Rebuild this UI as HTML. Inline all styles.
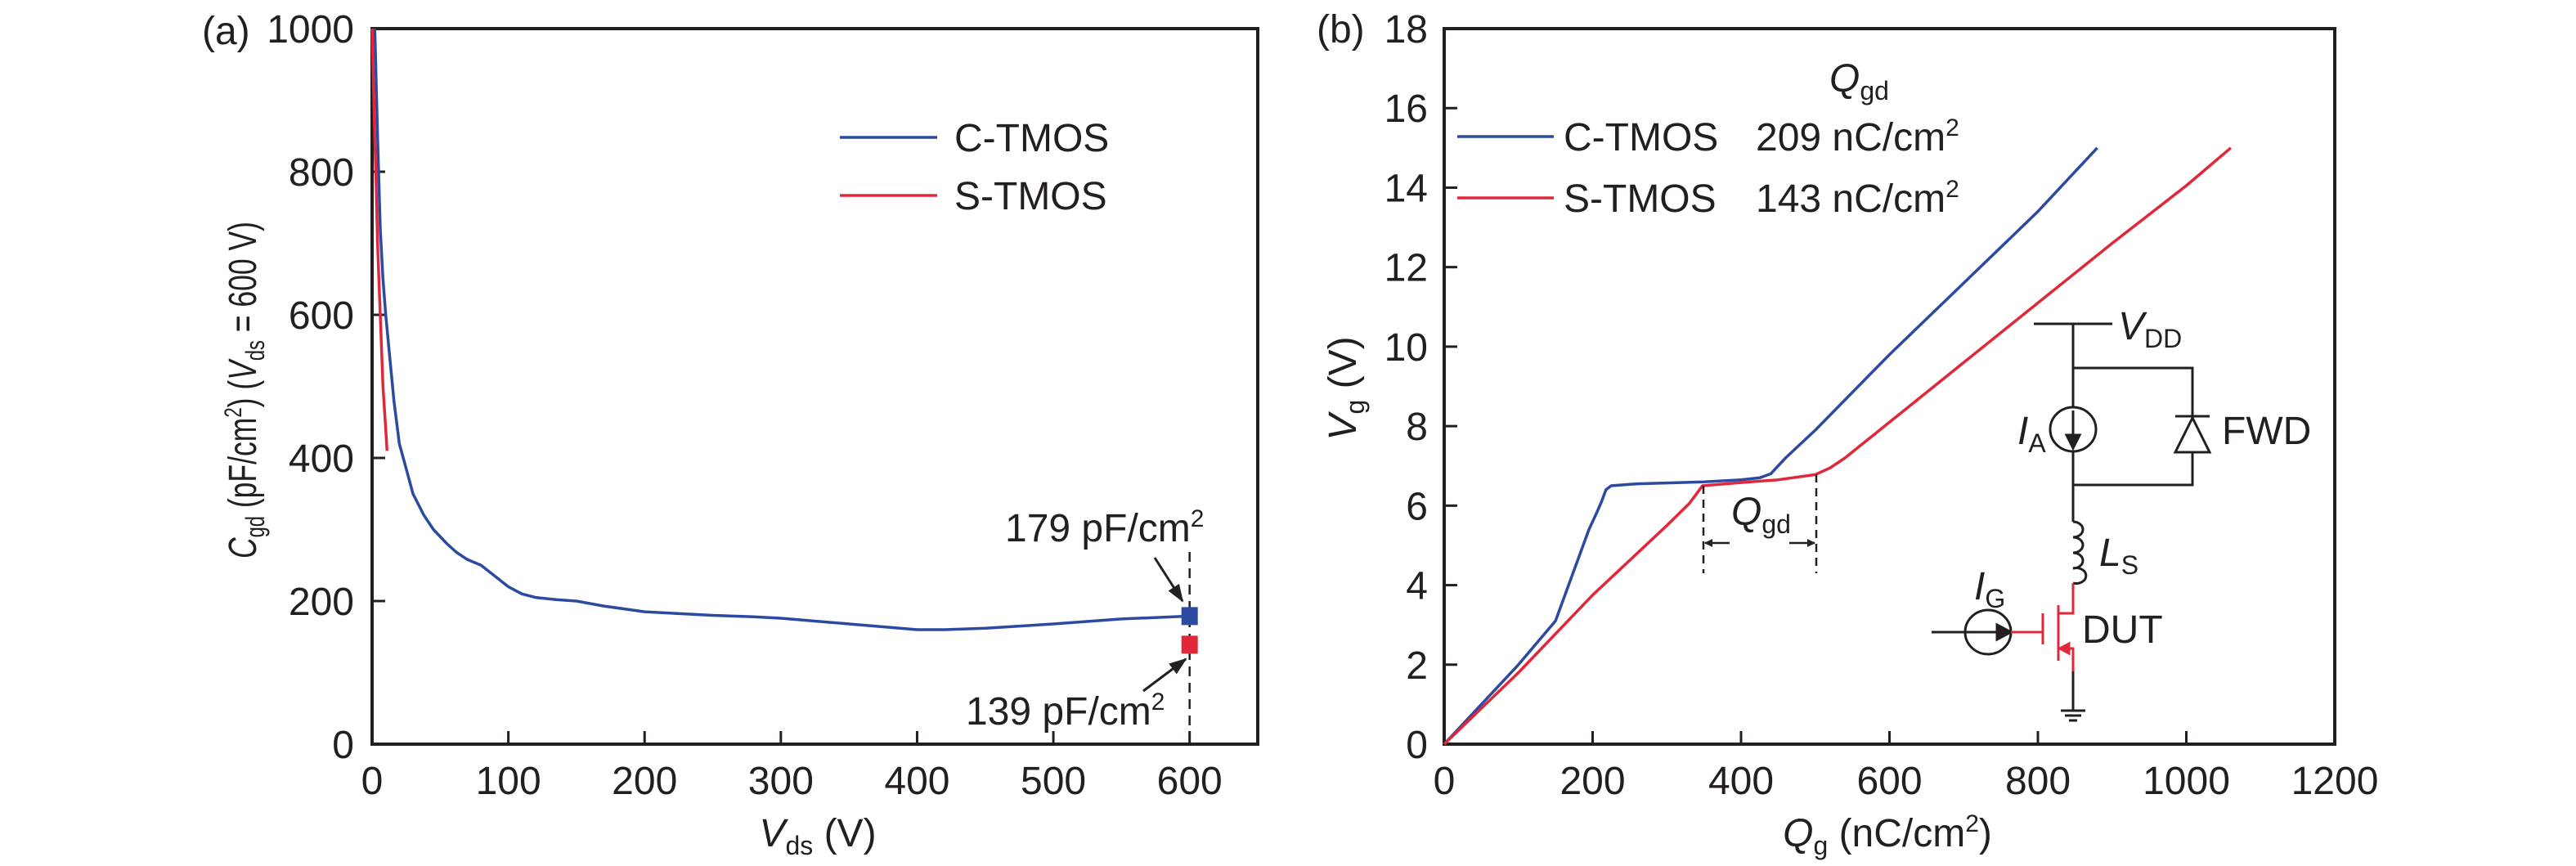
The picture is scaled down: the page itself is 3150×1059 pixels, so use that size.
<!DOCTYPE html>
<html><head><meta charset="utf-8"><style>
html,body{margin:0;padding:0;background:#fff;}
svg{display:block;font-family:"Liberation Sans Narrow","Liberation Sans",sans-serif;}
</style></head><body>
<svg id="fig" width="3150" height="1059" viewBox="0 0 3150 1059" xmlns="http://www.w3.org/2000/svg">
<defs>
<marker id="ah" markerWidth="10" markerHeight="10" refX="9" refY="5" orient="auto" markerUnits="userSpaceOnUse"><path d="M0,0 L10,5 L0,10 z" fill="#222"/></marker>
<marker id="ahb" markerWidth="22" markerHeight="16" refX="20" refY="8" orient="auto" markerUnits="userSpaceOnUse"><path d="M0,0 L22,8 L0,16 z" fill="#222"/></marker>
</defs>
<g id="pa"></g>
<g id="pb"></g>
</svg>
<script>
// Panel (a) data
const aXTicks = [0,100,200,300,400,500,600];
const aYTicks = [0,200,400,600,800,1000];
const aBlueX = [2,4,6,8,10,12,16,20,25,30,38,45,55,62,70,80,90,100,110,120,135,150,170,200,250,280,300,350,400,420,450,500,550,600];
const aBlueY = [1000,850,720,650,600,560,480,420,385,350,320,300,280,268,258,250,235,220,210,205,202,200,193,185,180,178,176,168,160,160,162,168,175,179];
const aRedX = [0,2,3,4,5,6,8,10,11];
const aRedY = [1000,850,780,700,650,600,500,440,410];
const aMarkX = [600,600];
const aMarkY = [179,139];
// Panel (b) data
const bXTicks = [0,200,400,600,800,1000,1200];
const bYTicks = [0,2,4,6,8,10,12,14,16,18];
const bBlueX = [0,50,100,150,195,205,212,218,225,260,300,350,400,425,440,460,500,600,700,800,880];
const bBlueY = [0,1.0,2.0,3.1,5.4,5.8,6.1,6.4,6.5,6.55,6.57,6.6,6.65,6.7,6.8,7.2,7.9,9.8,11.6,13.4,15];
const bRedX = [0,100,200,300,330,340,348,400,450,500,520,540,600,700,800,900,1000,1060];
const bRedY = [0,1.8,3.75,5.5,6.05,6.3,6.5,6.58,6.65,6.78,6.95,7.2,8.1,9.6,11.1,12.6,14.05,15];

const NS="http://www.w3.org/2000/svg";
function mk(parent,tag,attrs,text){const e=document.createElementNS(NS,tag);for(const k in attrs)e.setAttribute(k,attrs[k]);if(text!==undefined)e.textContent=text;parent.appendChild(e);return e;}
const BLUE="#2c4aa0", RED="#e0283a", K="#231f20";

// ---------- Panel a ----------
const pa=document.getElementById('pa');
const aL=455,aR=1538,aT=35,aB=910;
const ax=v=>aL+(v/650)*(aR-aL);
const ay=v=>aB-(v/1000)*(aB-aT);
let e;
e=mk(pa,'rect',{x:aL,y:aT,width:aR-aL,height:aB-aT,fill:'none',stroke:K,'stroke-width':4});


aXTicks.forEach(t=>{
  e=mk(pa,'line',{x1:ax(t),x2:ax(t),y1:aB,y2:aB-16,stroke:K,'stroke-width':3});
  
  
  e=mk(pa,'text',{x:ax(t),y:971,'font-size':48,'text-anchor':'middle',fill:K},String(t));
  
  
});
aYTicks.forEach(t=>{
  e=mk(pa,'line',{x1:aL,x2:aL+16,y1:ay(t),y2:ay(t),stroke:K,'stroke-width':3});
  
  
  e=mk(pa,'text',{x:433,y:ay(t)+17,'font-size':48,'text-anchor':'end',fill:K},String(t));
  
  
});
function poly(parent,xs,ys,fx,fy,col,name){
  const pts=xs.map((x,i)=>fx(x).toFixed(1)+','+fy(ys[i]).toFixed(1)).join(' ');
  const p=mk(parent,'polyline',{points:pts,fill:'none',stroke:col,'stroke-width':3.5,'stroke-linejoin':'round'});
  
  
}
poly(pa,aBlueX,aBlueY,ax,ay,BLUE,'c-tmos-cgd-curve');
poly(pa,aRedX,aRedY,ax,ay,RED,'s-tmos-cgd-curve');
e=mk(pa,'line',{x1:ax(600),x2:ax(600),y1:675,y2:aB,stroke:K,'stroke-width':2.5,'stroke-dasharray':'12,8'});


aMarkX.forEach((x,i)=>{
  e=mk(pa,'rect',{x:ax(x)-10,y:ay(aMarkY[i])-11,width:20,height:22,fill:i===0?BLUE:RED});
  
  
});
e=mk(pa,'line',{x1:1412,y1:682,x2:1446,y2:735,stroke:K,'stroke-width':3,'marker-end':'url(#ahb)'});


e=mk(pa,'line',{x1:1398,y1:845,x2:1450,y2:806,stroke:K,'stroke-width':3,'marker-end':'url(#ahb)'});


e=mk(pa,'text',{x:1229,y:662,'font-size':48,fill:K});
e.innerHTML='179 pF/cm<tspan dy="-18" font-size="30">2</tspan>';


e=mk(pa,'text',{x:1181,y:886,'font-size':48,fill:K});
e.innerHTML='139 pF/cm<tspan dy="-18" font-size="30">2</tspan>';


// legend a
[['C-TMOS',BLUE,168],['S-TMOS',RED,239]].forEach(([n,c,y])=>{
  e=mk(pa,'line',{x1:1027,x2:1146,y1:y,y2:y,stroke:c,'stroke-width':3.5});
  
  
  e=mk(pa,'text',{x:1167,y:y+17,'font-size':48,fill:K},n);
  
  
});
e=mk(pa,'text',{x:247,y:54,'font-size':48,fill:K},'(a)');


e=mk(pa,'text',{x:1000,y:1035,'font-size':48,'text-anchor':'middle',fill:K});
e.innerHTML='<tspan font-style="italic">V</tspan><tspan font-size="32" dy="10">ds</tspan><tspan dy="-10"> (V)</tspan>';


e=mk(pa,'text',{x:0,y:0,'font-size':48,'text-anchor':'middle',fill:K,transform:'translate(313,477) rotate(-90) scale(0.74,1)'});
e.innerHTML='<tspan font-style="italic">C</tspan><tspan font-size="32" dy="10">gd</tspan><tspan dy="-10"> (pF/cm</tspan><tspan font-size="30" dy="-18">2</tspan><tspan dy="18">) (</tspan><tspan font-style="italic">V</tspan><tspan font-size="32" dy="10">ds</tspan><tspan dy="-10"> = 600 V)</tspan>';



// ---------- Panel b ----------
const pb=document.getElementById('pb');
const bL=1766,bR=2855,bT=35,bB=910;
const bx=v=>bL+(v/1200)*(bR-bL);
const by=v=>bB-(v/18)*(bB-bT);
e=mk(pb,'rect',{x:bL,y:bT,width:bR-bL,height:bB-bT,fill:'none',stroke:K,'stroke-width':4});


bXTicks.forEach(t=>{
  e=mk(pb,'line',{x1:bx(t),x2:bx(t),y1:bB,y2:bB-16,stroke:K,'stroke-width':3});
  
  
  e=mk(pb,'text',{x:bx(t),y:971,'font-size':48,'text-anchor':'middle',fill:K},String(t));
  
  
});
bYTicks.forEach(t=>{
  e=mk(pb,'line',{x1:bL,x2:bL+16,y1:by(t),y2:by(t),stroke:K,'stroke-width':3});
  
  
  e=mk(pb,'text',{x:1746,y:by(t)+17,'font-size':48,'text-anchor':'end',fill:K},String(t));
  
  
});
poly(pb,bBlueX,bBlueY,bx,by,BLUE,'c-tmos-vg-curve');
poly(pb,bRedX,bRedY,bx,by,RED,'s-tmos-vg-curve');
// Qgd annotation
e=mk(pb,'line',{x1:2083,x2:2083,y1:594,y2:701,stroke:K,'stroke-width':2.5,'stroke-dasharray':'10,7'});


e=mk(pb,'line',{x1:2221,x2:2221,y1:580,y2:701,stroke:K,'stroke-width':2.5,'stroke-dasharray':'10,7'});


e=mk(pb,'line',{x1:2115,x2:2085,y1:664,y2:664,stroke:K,'stroke-width':2.5,'marker-end':'url(#ah)'});


e=mk(pb,'line',{x1:2188,x2:2219,y1:664,y2:664,stroke:K,'stroke-width':2.5,'marker-end':'url(#ah)'});


e=mk(pb,'text',{x:2117,y:642,'font-size':48,fill:K});
e.innerHTML='<tspan font-style="italic">Q</tspan><tspan font-size="32" dy="10">gd</tspan>';


// legend b
e=mk(pb,'text',{x:2237,y:112,'font-size':48,fill:K});
e.innerHTML='<tspan font-style="italic">Q</tspan><tspan font-size="32" dy="10">gd</tspan>';


[['C-TMOS','209',BLUE,167],['S-TMOS','143',RED,242]].forEach(([n,v,c,y])=>{
  e=mk(pb,'line',{x1:1782,x2:1900,y1:y,y2:y,stroke:c,'stroke-width':3.5});
  
  
  e=mk(pb,'text',{x:1912,y:y+17,'font-size':48,fill:K},n);
  
  
  e=mk(pb,'text',{x:2147,y:y+17,'font-size':48,fill:K});
  e.innerHTML=v+' nC/cm<tspan dy="-18" font-size="30">2</tspan>';
  
  
});
e=mk(pb,'text',{x:1610,y:52,'font-size':48,fill:K},'(b)');


e=mk(pb,'text',{x:2308,y:1035,'font-size':48,'text-anchor':'middle',fill:K});
e.innerHTML='<tspan font-style="italic">Q</tspan><tspan font-size="32" dy="10">g</tspan><tspan dy="-10"> (nC/cm</tspan><tspan font-size="30" dy="-18">2</tspan><tspan dy="18">)</tspan>';


e=mk(pb,'text',{x:0,y:0,'font-size':48,'text-anchor':'middle',fill:K,transform:'translate(1658,475) rotate(-90)'});
e.innerHTML='<tspan font-style="italic">V</tspan><tspan font-size="32" dy="10">g</tspan><tspan dy="-10"> (V)</tspan>';



// circuit
const c=mk(pb,'g',{stroke:K,'stroke-width':3,fill:'none'});


c.innerHTML=`
<line x1="2487" y1="396" x2="2583" y2="396"/>
<line x1="2535" y1="396" x2="2535" y2="498"/>
<line x1="2535" y1="552" x2="2535" y2="638"/>
<polyline points="2535,450 2681,450 2681,509"/>
<polyline points="2681,553 2681,593 2535,593"/>
<line x1="2660" y1="509" x2="2702" y2="509"/>
<polygon points="2681,511 2660,553 2702,553"/>
<ellipse cx="2535" cy="525" rx="28" ry="27"/>
<line x1="2535" y1="502" x2="2535" y2="535"/>
<polygon points="2527,532 2543,532 2535,548" fill="#231f20"/>
<path d="M2535,638 a12,9.5 0 1 1 0,19 a12,9.5 0 1 1 0,19 a12,9.5 0 1 1 0,19 a12,9.5 0 1 1 0,18"/>
<line x1="2535" y1="821" x2="2535" y2="869"/>
<line x1="2520" y1="869" x2="2550" y2="869"/>
<line x1="2525" y1="875" x2="2545" y2="875"/>
<line x1="2530" y1="881" x2="2540" y2="881"/>
<ellipse cx="2431" cy="773" rx="28" ry="27"/>
<line x1="2362" y1="773" x2="2445" y2="773"/>
<polygon points="2442,764 2459,773 2442,782" fill="#231f20"/>
`;
const m=mk(pb,'g',{stroke:RED,'stroke-width':3,fill:'none'});


m.innerHTML=`
<polyline points="2535,713 2535,750 2517,750"/>
<line x1="2517" y1="740" x2="2517" y2="808"/>
<line x1="2498" y1="750" x2="2498" y2="788"/>
<line x1="2459" y1="773" x2="2498" y2="773"/>
<polyline points="2517,793 2535,793 2535,821"/>
<polygon points="2519,793 2530,787 2530,799" fill="${RED}"/>
`;
function label(x,y,main,sub,name){
  const t=mk(pb,'text',{x:x,y:y,'font-size':48,fill:K});
  t.innerHTML='<tspan font-style="italic">'+main+'</tspan><tspan font-size="32" dy="10">'+sub+'</tspan>';
  
  
}
label(2590,415,'V','DD','vdd-label');
label(2467,543,'I','A','ia-label');
label(2567,692,'L','S','ls-label');
label(2414,733,'I','G','ig-label');
e=mk(pb,'text',{x:2717,y:543,'font-size':48,fill:K},'FWD');


e=mk(pb,'text',{x:2546,y:786,'font-size':48,fill:K},'DUT');


</script>
</body></html>
